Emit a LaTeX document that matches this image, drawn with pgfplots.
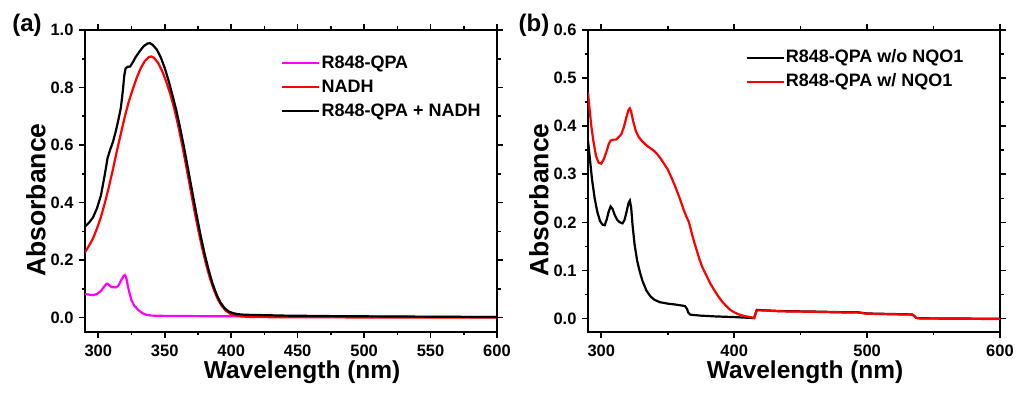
\documentclass[border=0pt]{standalone}
\usepackage{fontspec}
\setmainfont{Liberation Sans}
\usepackage{pgfplots}
\pgfplotsset{compat=1.18}
\definecolor{mag}{RGB}{255,0,255}
\definecolor{rd}{RGB}{255,0,0}
\pgfplotsset{
  myaxis/.style={
    scale only axis, width=412bp, height=302bp,
    xmin=290, xmax=600,
    axis line style={line width=2bp},
    every tick/.style={line width=1.6bp, black},
    tick align=outside,
    major tick length=6bp, minor tick length=3.5bp,
    minor tick num=1,
    /pgf/number format/assume math mode=true,
    tick label style={font=\bfseries\fontsize{16.5bp}{19bp}\selectfont},
    xticklabel style={yshift=-3bp},
    yticklabel style={xshift=-2bp},
    xlabel style={font=\bfseries\fontsize{24.5bp}{28bp}\selectfont, at={(axis description cs:0.527,0)}, anchor=north, yshift=-29bp, inner sep=0pt},
    ylabel style={font=\bfseries\fontsize{26.5bp}{30bp}\selectfont, at={(axis description cs:-0.095,0.437)}, anchor=south, rotate=0, inner sep=0pt},
    legend cell align=left,
    legend image code/.code={\draw[#1] (0bp,0bp) -- (37bp,0bp);},
    legend style={draw=none, fill=none, inner sep=0pt, row sep=5bp,
      font=\bfseries\fontsize{18bp}{21bp}\selectfont,
      nodes={inner sep=1bp, text height=13.5bp, text depth=3.5bp}},
    every axis plot/.append style={line width=2.2bp},
  }
}
\begin{document}
\begin{tikzpicture}
\useasboundingbox (0,0) rectangle (1018bp,394bp);
\begin{axis}[myaxis, at={(85bp,62bp)}, anchor=south west,
  ymin=-0.05, ymax=1.0,
  xtick={300,350,400,450,500,550,600},
  ytick={0,0.2,0.4,0.6,0.8,1.0},
  yticklabel style={/pgf/number format/.cd, fixed, fixed zerofill, precision=1},
  xlabel={Wavelength (nm)}, ylabel={Absorbance},
  legend style={at={(0.476,0.922)}, anchor=north west},
]
\addplot[mag] coordinates {
(290,0.082)(293,0.080)(296,0.078)(299,0.082)(302,0.093)(304,0.105)(306,0.117)(307,0.118)
(308.5,0.112)(310,0.106)(313,0.105)(315,0.110)(317,0.128)(319,0.145)(320,0.148)(321,0.140)
(322,0.115)(323.5,0.085)(325,0.060)(327,0.042)(330,0.027)(333,0.016)(336,0.010)(340,0.007)
(350,0.006)(380,0.005)(420,0.004)(500,0.003)(600,0.002)};
\addlegendentry{R848-QPA}
\addplot[rd] coordinates {
(290,0.227)(293,0.250)(296,0.275)(299,0.310)(302,0.350)(305,0.400)(308,0.455)(311,0.515)
(314,0.580)(317,0.640)(320,0.700)(323,0.752)(326,0.795)(329,0.835)(332,0.868)(335,0.892)
(338,0.906)(340,0.908)(342,0.903)(345,0.886)(348,0.858)(351,0.822)(354,0.780)(357,0.730)
(360,0.670)(363,0.603)(366,0.530)(369,0.455)(372,0.380)(375,0.310)(378,0.245)(381,0.187)
(384,0.137)(387,0.096)(390,0.063)(393,0.040)(396,0.024)(399,0.014)(403,0.008)(408,0.004)
(415,0.002)(450,0.001)(600,0.000)};
\addlegendentry{NADH}
\addplot[black] coordinates {
(290,0.317)(293,0.330)(296,0.348)(299,0.380)(302,0.425)(305,0.500)(307,0.555)(309,0.585)
(311,0.610)(313,0.645)(315,0.685)(317,0.730)(318.5,0.790)(319.5,0.840)(320.5,0.866)(322,0.872)
(324,0.873)(326,0.888)(328,0.905)(331,0.925)(334,0.943)(337,0.953)(339,0.954)(341,0.948)
(344,0.932)(347,0.905)(350,0.868)(353,0.822)(356,0.770)(359,0.715)(362,0.650)(365,0.580)
(368,0.505)(371,0.430)(374,0.356)(377,0.285)(380,0.222)(383,0.166)(386,0.118)(389,0.080)
(392,0.052)(395,0.033)(398,0.022)(401,0.016)(405,0.012)(410,0.010)(420,0.009)(440,0.007)
(480,0.005)(520,0.004)(560,0.003)(600,0.002)};
\addlegendentry{R848-QPA + NADH}
\end{axis}
\begin{axis}[myaxis, at={(588bp,62bp)}, anchor=south west,
  ymin=-0.028, ymax=0.6,
  xtick={300,400,500,600},
  ytick={0,0.1,0.2,0.3,0.4,0.5,0.6},
  yticklabel style={/pgf/number format/.cd, fixed, fixed zerofill, precision=1},
  xlabel={Wavelength (nm)}, ylabel={Absorbance},
  legend style={at={(0.382,0.94)}, anchor=north west},
]
\addplot[black] coordinates {
(290,0.370)(291.5,0.330)(293,0.290)(295,0.250)(297,0.222)(299,0.203)(301,0.195)(302.5,0.194)
(304,0.205)(305.5,0.222)(307,0.233)(308.5,0.228)(310,0.216)(312,0.205)(314,0.200)(316,0.198)
(317.5,0.205)(319,0.222)(320.5,0.240)(321.5,0.245)(322.5,0.230)(323.5,0.195)(325,0.155)
(327,0.120)(329,0.097)(331,0.078)(334,0.058)(337,0.046)(340,0.039)(344,0.034)(350,0.031)
(356,0.029)(363,0.026)(364.5,0.020)(365.5,0.012)(367,0.008)(375,0.006)(385,0.0045)(400,0.003)
(415,0.001)(416,0.010)(417,0.018)(420,0.0175)(435,0.0155)(460,0.0145)(485,0.013)(492,0.0133)
(500,0.0105)(534,0.0085)(535,0.0065)(537,0.0015)(540,0.0005)(600,-0.0005)};
\addlegendentry{R848-QPA w/o NQO1}
\addplot[rd] coordinates {
(290,0.470)(291,0.440)(292.5,0.400)(294,0.370)(296,0.338)(298,0.324)(300,0.322)(302,0.332)
(304,0.348)(305.5,0.362)(307,0.370)(309,0.372)(311,0.372)(313,0.377)(315,0.383)(317,0.398)
(319,0.420)(320.5,0.434)(321.5,0.437)(322.5,0.430)(324,0.410)(326,0.390)(328,0.378)(331,0.368)
(334,0.360)(337,0.354)(340,0.348)(342,0.342)(344,0.335)(347,0.323)(350,0.310)(353,0.292)
(356,0.272)(359,0.250)(362,0.226)(364,0.212)(366,0.200)(368,0.178)(370,0.158)(372,0.140)
(374,0.122)(376,0.107)(379,0.090)(382,0.073)(385,0.059)(388,0.046)(391,0.035)(394,0.026)
(397,0.018)(400,0.013)(404,0.008)(408,0.005)(412,0.003)(415,0.001)(416,0.009)(417,0.017)
(420,0.017)(435,0.015)(460,0.014)(485,0.0125)(492,0.0128)(500,0.010)(534,0.008)(535,0.006)
(537,0.001)(540,0.0)(600,-0.001)};
\addlegendentry{R848-QPA w/ NQO1}
\end{axis}
\node[font=\bfseries\fontsize{24bp}{28bp}\selectfont, inner sep=0pt] at (27bp,369bp) {(a)};
\node[font=\bfseries\fontsize{24bp}{28bp}\selectfont, inner sep=0pt] at (534bp,369bp) {(b)};
\end{tikzpicture}
\end{document}
